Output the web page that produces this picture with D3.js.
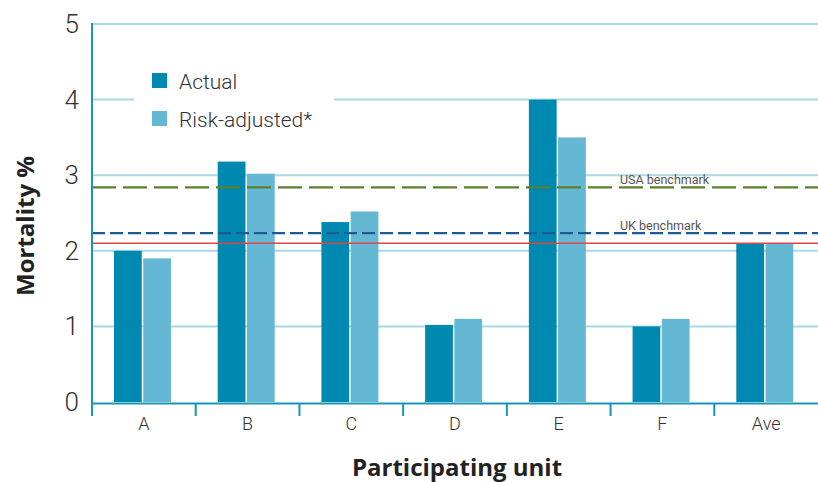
<!DOCTYPE html>
<html>
<head>
<meta charset="utf-8">
<script src="https://cdn.jsdelivr.net/npm/d3@7"></script>
<style>
  body { margin: 0; background: #fff; }
  svg text { font-family: "Open Sans", "DejaVu Sans", sans-serif; }
</style>
</head>
<body>
<div id="chart"></div>
<script>
// data
const units = ["A", "B", "C", "D", "E", "F", "Ave"];
const actual = [2.0, 3.18, 2.38, 1.02, 4.0, 1.0, 2.1];
const riskAdjusted = [1.9, 3.02, 2.52, 1.1, 3.5, 1.1, 2.1];
const yTicks = [0, 1, 2, 3, 4, 5];
const benchmarks = [
  { name: "USA benchmark", value: 2.84, color: "#5b7f2b", dash: "24,7" },
  { name: "UK benchmark", value: 2.235, color: "#1d5b94", dash: "13,5" }
];
const average = 2.1;

const width = 818;
const height = 482;
const plotLeft = 92;
const plotRight = 818;
const plotTop = 24;
const plotBottom = 402;

const svg = d3.select("#chart").append("svg").attr("width", width).attr("height", height);

const x = d3.scaleBand().domain(units).range([plotLeft, plotRight]);
const y = d3.scaleLinear().domain([0, 5]).range([plotBottom, plotTop]);

// grid lines
svg.append("g")
  .selectAll("line")
  .data(yTicks.slice(1))
  .enter()
  .append("line")
  .attr("x1", plotLeft)
  .attr("x2", plotRight)
  .attr("y1", (d) => y(d))
  .attr("y2", (d) => y(d))
  .attr("stroke", "#a9d9e4")
  .attr("stroke-width", 2);

// legend box hides grid behind it
svg.append("rect").attr("x", 134).attr("y", 62).attr("width", 200).attr("height", 78).attr("fill", "#fff");

// bars
const sub = d3.scaleBand().domain(["actual", "risk"]).range([0, 57]).paddingInner(0.05);
const barOffset = 22;
const rows = units.map((u, i) => ({ unit: u, actual: actual[i], risk: riskAdjusted[i] }));
const colors = { actual: "#0089b0", risk: "#65b8d3" };

const groups = svg.selectAll(".grp").data(rows).enter().append("g")
  .attr("transform", (d) => `translate(${x(d.unit) + barOffset},0)`);

["actual", "risk"].forEach((k) => {
  groups.append("rect")
    .attr("x", sub(k))
    .attr("width", sub.bandwidth())
    .attr("y", (d) => y(d[k]))
    .attr("height", (d) => y(0) - y(d[k]))
    .attr("fill", colors[k]);
});

// average line
svg.append("line")
  .attr("x1", plotLeft).attr("x2", plotRight)
  .attr("y1", y(average)).attr("y2", y(average))
  .attr("stroke", "#d9464b").attr("stroke-width", 1.5);

// benchmarks
benchmarks.forEach((b) => {
  svg.append("line")
    .attr("x1", plotLeft).attr("x2", plotRight)
    .attr("y1", y(b.value)).attr("y2", y(b.value))
    .attr("stroke", b.color).attr("stroke-width", 2.2)
    .attr("stroke-dasharray", b.dash);
  svg.append("text")
    .attr("x", 620).attr("y", y(b.value) - 3.5)
    .attr("font-size", 12.5).attr("fill", "#555")
    .style("font-family", "Roboto, 'DejaVu Sans', sans-serif")
    .text(b.name);
});

// y axis
svg.append("line").attr("x1", plotLeft).attr("x2", plotLeft).attr("y1", plotTop - 1).attr("y2", plotBottom + 14)
  .attr("stroke", "#1a93b8").attr("stroke-width", 2);

svg.append("g")
  .selectAll("text")
  .data(yTicks)
  .enter()
  .append("text")
  .attr("x", 79)
  .attr("y", (d) => y(d) + 9)
  .attr("text-anchor", "end")
  .attr("font-size", 26)
  .attr("fill", "#333")
  .style("font-family", "Roboto, 'DejaVu Sans', sans-serif")
  .style("font-weight", 300)
  .text((d) => d);

// x axis
const xAxis = d3.axisBottom(x).tickSize(0).tickPadding(14);
const xg = svg.append("g").attr("transform", `translate(0,${plotBottom + 1})`).call(xAxis);
xg.select(".domain").attr("stroke", "#1a93b8").attr("stroke-width", 2);
xg.selectAll("text").attr("font-size", 18).attr("fill", "#333")
  .style("font-family", "Roboto, 'DejaVu Sans', sans-serif")
  .style("font-weight", 300);

svg.append("g")
  .selectAll("line")
  .data(units)
  .enter()
  .append("line")
  .attr("x1", (d) => x(d))
  .attr("x2", (d) => x(d))
  .attr("y1", plotBottom + 1)
  .attr("y2", plotBottom + 14)
  .attr("stroke", "#1a93b8")
  .attr("stroke-width", 2);

// legend
const legendItems = [
  { label: "Actual", color: colors.actual },
  { label: "Risk-adjusted*", color: colors.risk }
];
const lg = svg.append("g").attr("transform", "translate(152,73)");
legendItems.forEach((it, i) => {
  lg.append("rect").attr("x", 0).attr("y", i * 38).attr("width", 15).attr("height", 15).attr("fill", it.color);
  lg.append("text").attr("x", 27).attr("y", i * 38 + 16).attr("font-size", 21).attr("fill", "#333")
    .style("font-family", "Roboto, 'DejaVu Sans', sans-serif")
    .style("font-weight", 300)
    .text(it.label);
});

// axis titles
svg.append("text")
  .attr("transform", "translate(34,226) rotate(-90)")
  .attr("text-anchor", "middle")
  .attr("font-size", 24)
  .attr("font-weight", "bold")
  .attr("fill", "#222")
  .text("Mortality %");

svg.append("text")
  .attr("x", 457)
  .attr("y", 476)
  .attr("text-anchor", "middle")
  .attr("font-size", 24)
  .attr("font-weight", "bold")
  .attr("fill", "#222")
  .text("Participating unit");
</script>
</body>
</html>
